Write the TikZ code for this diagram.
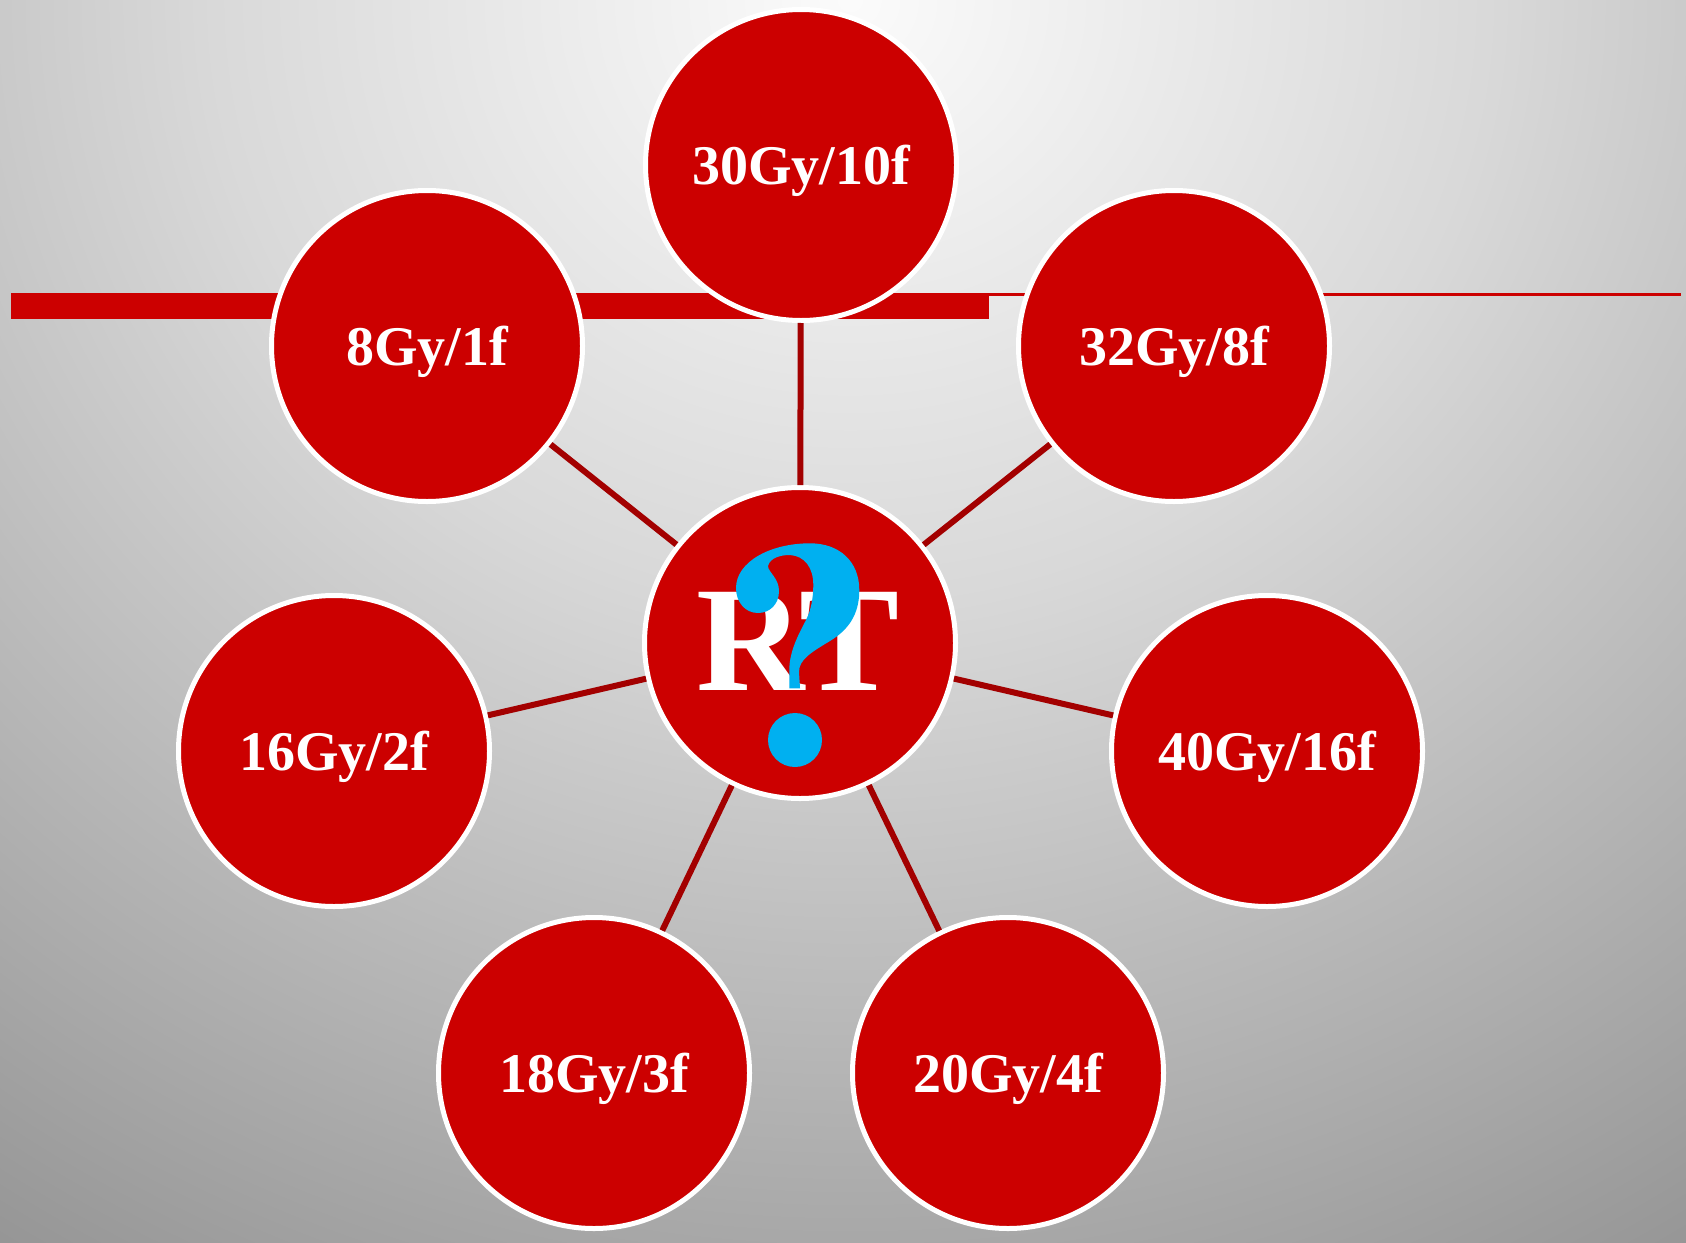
\documentclass[tikz,border=0pt]{standalone}
\usepackage{fontspec}
\setmainfont{Liberation Serif}
\definecolor{bgA}{gray}{0.985}
\definecolor{bgB}{gray}{0.85}
\definecolor{bgC}{gray}{0.58}
\definecolor{rfill}{HTML}{CC0000}
\definecolor{rline}{HTML}{A30000}
\definecolor{qcol}{HTML}{00B0F0}
\pgfdeclareradialshading{bgshade}{\pgfpoint{0bp}{0bp}}{color(0bp)=(bgA); color(10bp)=(bgB); color(25bp)=(bgC); color(50bp)=(bgC)}
\tikzset{
  dose/.style={circle, fill=rfill, draw=white, line width=5pt, minimum size=311pt, inner sep=0pt,
    text=white, text depth=0pt, font=\fontsize{56}{60}\selectfont\bfseries},
  conn/.style={draw=rline, line width=6pt},
}
\begin{document}
\begin{tikzpicture}[x=1pt,y=-1pt]
\useasboundingbox (0,0) rectangle (1686,1242);
\begin{scope}
\clip (0,0) rectangle (1686,1242);
\shade[shading=bgshade] (850,0) ellipse (1600 and 1500);
\end{scope}
% header bars
\fill[rfill] (11,293) rectangle (989,319);
\draw[rfill, line width=2.5pt] (11,294.5) -- (1681,294.5);
% nodes
\node[dose] (rt) at (800,643) {};
\node[dose] (c30) at (801,165) {30Gy/10f};
\node[dose] (c8) at (427,346) {8Gy/1f};
\node[dose] (c32) at (1174,346) {32Gy/8f};
\node[dose] (c16) at (334,751) {16Gy/2f};
\node[dose] (c40) at (1267,751) {40Gy/16f};
\node[dose] (c18) at (594,1073) {18Gy/3f};
\node[dose] (c20) at (1008,1073) {20Gy/4f};
% connectors
\foreach \n in {c30,c8,c32,c16,c40,c18,c20}{
  \draw[conn] (rt) -- (\n);
}
% RT text
\node[anchor=base, text=white, font=\fontsize{150}{150}\selectfont\bfseries, inner sep=0pt] (rtxt) at (798,690) {RT};
% question mark
\fill[qcol] (810,543.3)
 .. controls (840,543.3) and (859.3,562) .. (859.3,590)
 .. controls (859.3,615) and (848,630) .. (830,641)
 .. controls (810,653) and (799,660) .. (799,672)
 -- (800,688.3) -- (789.3,688.3) -- (789.3,670)
 .. controls (789.3,650) and (800,632) .. (806,620)
 .. controls (811,610) and (813.3,598) .. (813.3,585)
 .. controls (813.3,568) and (805,556) .. (790,555)
 .. controls (780,555) and (770,558) .. (768,566)
 .. controls (768,572) and (779,578) .. (779,591)
 .. controls (779,604) and (770,613) .. (758,613)
 .. controls (745,613) and (736,602) .. (736,588)
 .. controls (736,562) and (770,543.3) .. (810,543.3)
 -- cycle;
\fill[qcol] (795,740) circle (27);
\end{tikzpicture}
\end{document}
